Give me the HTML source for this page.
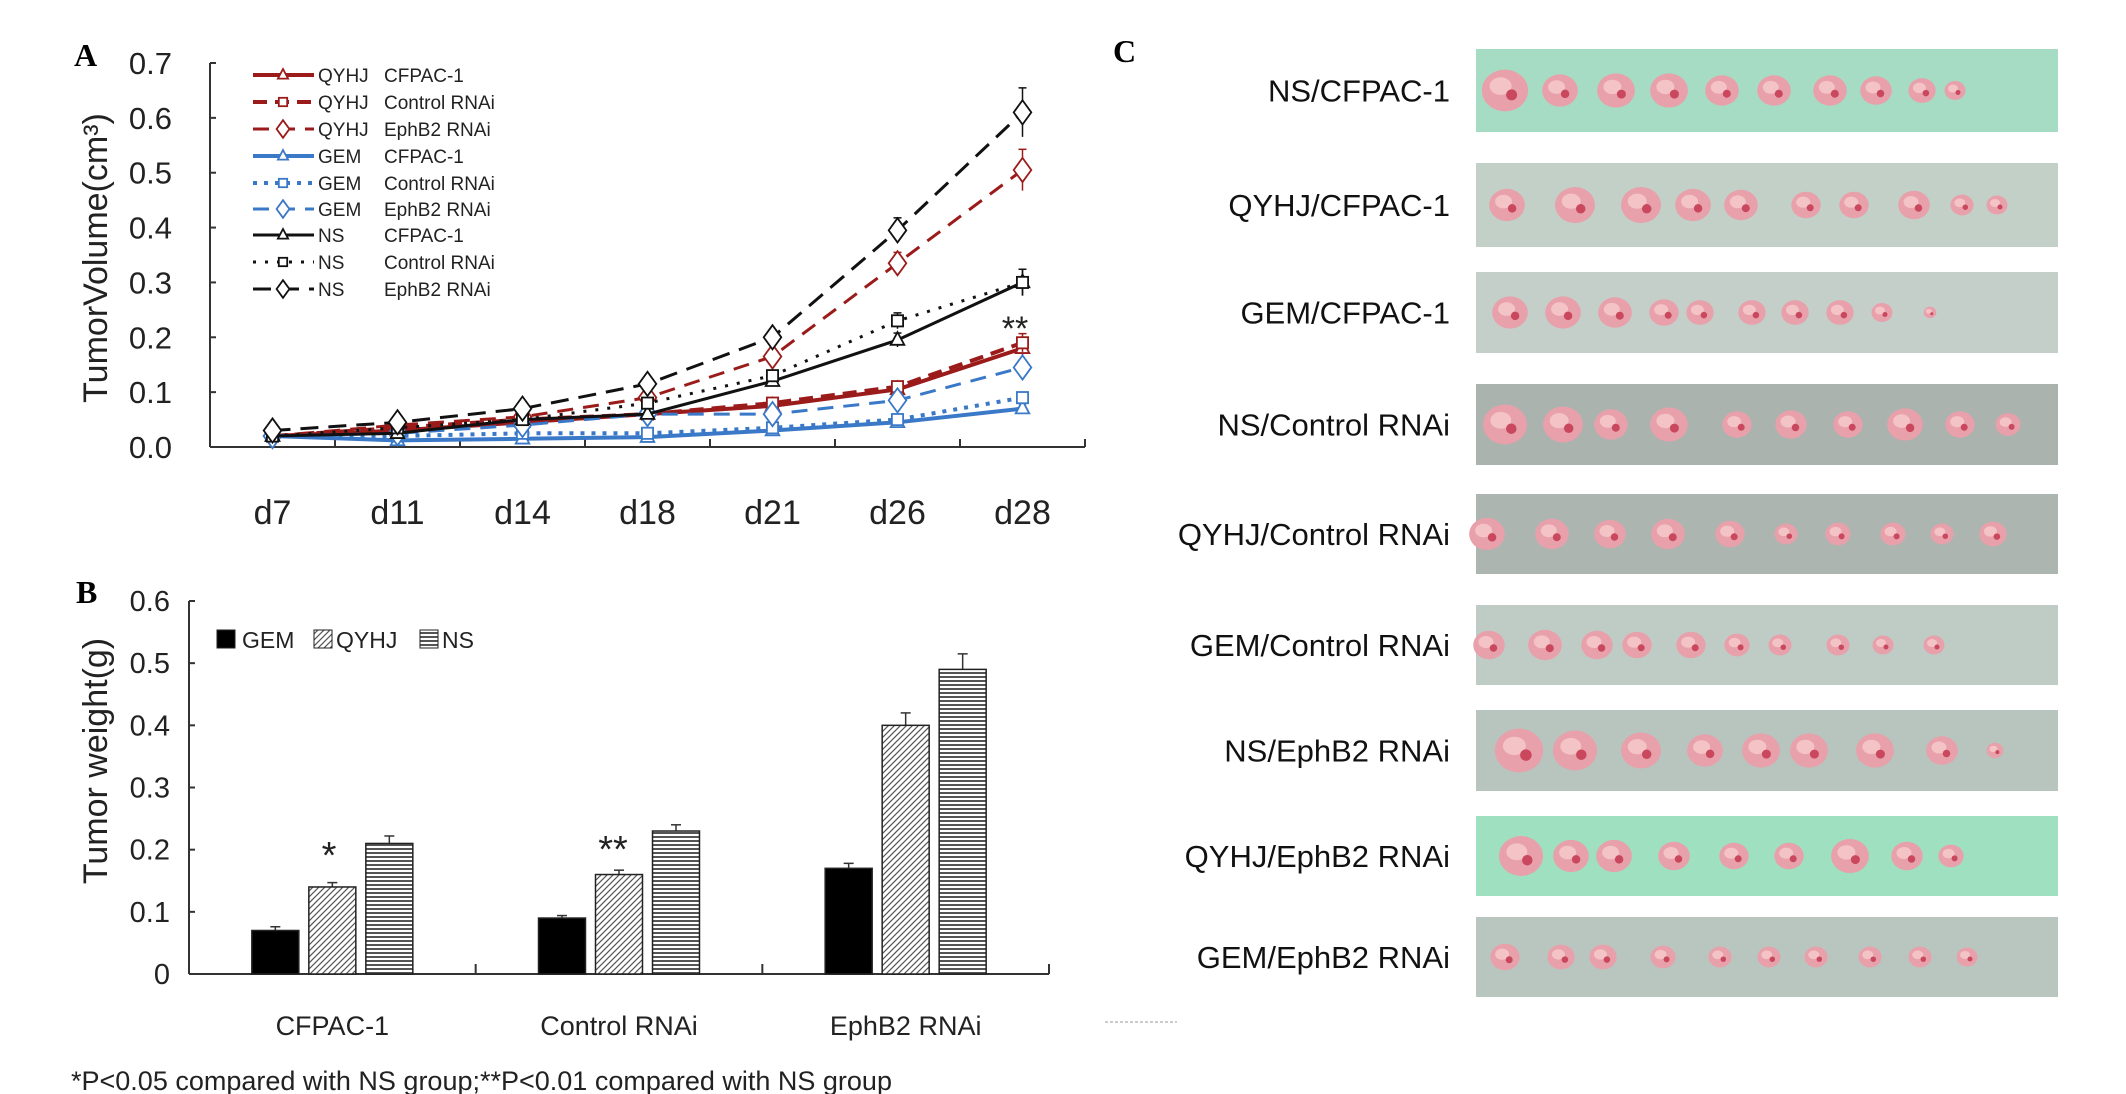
<!DOCTYPE html>
<html><head><meta charset="utf-8"><style>
html,body{margin:0;padding:0;background:#fff;}
svg{display:block;font-family:"Liberation Sans",sans-serif;}
</style></head><body>
<svg id="fig" width="2126" height="1094" viewBox="0 0 2126 1094" xmlns="http://www.w3.org/2000/svg">
<defs>
<pattern id="diag" patternUnits="userSpaceOnUse" width="6" height="6"><rect width="6" height="6" fill="#fff"/><path d="M-1,7 L7,-1 M-4,4 L4,-4 M2,10 L10,2" stroke="#555" stroke-width="1.2"/></pattern>
<pattern id="horiz" patternUnits="userSpaceOnUse" width="6" height="4"><rect width="6" height="4" fill="#fff"/><rect y="0" width="6" height="2" fill="#555"/></pattern>
</defs>
<g id="panelA"></g>
<g id="panelB"></g>
<g id="panelC"></g>
</svg>
<script>
// ---------- Panel A data ----------
const daysA = ["d7","d11","d14","d18","d21","d26","d28"];
const yTicksA = ["0.0","0.1","0.2","0.3","0.4","0.5","0.6","0.7"];
const seriesNamesA = ["QYHJ CFPAC-1","QYHJ Control RNAi","QYHJ EphB2 RNAi","GEM CFPAC-1","GEM Control RNAi","GEM EphB2 RNAi","NS CFPAC-1","NS Control RNAi","NS EphB2 RNAi"];
const qyhjCfpac = [0.02,0.03,0.045,0.06,0.075,0.105,0.18];
const qyhjCtrl  = [0.02,0.035,0.05,0.06,0.08,0.11,0.19];
const qyhjEph   = [0.02,0.04,0.055,0.09,0.165,0.335,0.505];
const gemCfpac  = [0.02,0.012,0.015,0.018,0.03,0.045,0.07];
const gemCtrl   = [0.02,0.02,0.025,0.025,0.035,0.05,0.09];
const gemEph    = [0.02,0.025,0.04,0.06,0.06,0.085,0.145];
const nsCfpac   = [0.02,0.025,0.05,0.06,0.12,0.195,0.3];
const nsCtrl    = [0.02,0.035,0.05,0.08,0.13,0.23,0.3];
const nsEph     = [0.03,0.045,0.07,0.115,0.2,0.395,0.61];
const errA      = [0.003,0.004,0.005,0.006,0.01,0.015,0.02];

// ---------- Panel B data ----------
const groupsB = ["CFPAC-1","Control RNAi","EphB2 RNAi"];
const yTicksB = ["0","0.1","0.2","0.3","0.4","0.5","0.6"];
const gemB  = [0.07,0.09,0.17];
const qyhjB = [0.14,0.16,0.40];
const nsB   = [0.21,0.23,0.49];
const gemErrB  = [0.006,0.004,0.008];
const qyhjErrB = [0.007,0.007,0.02];
const nsErrB   = [0.012,0.01,0.025];

const NS="http://www.w3.org/2000/svg";
function el(parent,tag,attrs,text){const e=document.createElementNS(NS,tag);for(const k in attrs)e.setAttribute(k,attrs[k]);if(text!==undefined)e.textContent=text;parent.appendChild(e);return e;}

// ===== Panel A =====
const A=document.getElementById('panelA');
const aL=210,aR=1085,aT=63,aB=447;
const ax=i=>aL+(aR-aL)/daysA.length*(i+0.5);
const ay=v=>aB-(aB-aT)*v/0.7;
let t=el(A,'text',{x:74,y:66,'font-family':'Liberation Serif, serif','font-weight':'bold','font-size':32},'A');


el(A,'line',{x1:aL,y1:aT,x2:aL,y2:aB,stroke:'#333','stroke-width':2});
el(A,'line',{x1:aL,y1:aB,x2:aR,y2:aB,stroke:'#333','stroke-width':2});
yTicksA.forEach((lab,i)=>{const y=ay(i*0.1);
 el(A,'line',{x1:aL,y1:y,x2:aL+6,y2:y,stroke:'#333','stroke-width':2});
 const tt=el(A,'text',{x:172,y:y+11,'text-anchor':'end','font-size':31,fill:'#222'},lab);
 
 
});
for(let i=0;i<=daysA.length;i++){const x=aL+(aR-aL)/daysA.length*i;el(A,'line',{x1:x,y1:aB,x2:x,y2:aB-8,stroke:'#333','stroke-width':2});}
daysA.forEach((d,i)=>{const tt=el(A,'text',{x:ax(i),y:524,'text-anchor':'middle','font-size':34,fill:'#222'},d);
 
 });
t=el(A,'text',{transform:'translate(107,258) rotate(-90)','text-anchor':'middle','font-size':34,fill:'#222'},'TumorVolume(cm³)');



const RED='#9b1b1b',BLUE='#3a78c8',BLK='#111';
const styles=[
 {d:qyhjCfpac,c:RED,dash:'',m:'tri',w:4},
 {d:qyhjCtrl,c:RED,dash:'14,8',m:'sq',w:4},
 {d:qyhjEph,c:RED,dash:'16,10',m:'dia',w:3},
 {d:gemCfpac,c:BLUE,dash:'',m:'tri',w:4},
 {d:gemCtrl,c:BLUE,dash:'4,7',m:'sq',w:4},
 {d:gemEph,c:BLUE,dash:'16,10',m:'dia',w:3},
 {d:nsCfpac,c:BLK,dash:'',m:'tri',w:3},
 {d:nsCtrl,c:BLK,dash:'3,9',m:'sq',w:3},
 {d:nsEph,c:BLK,dash:'18,10',m:'dia',w:3}];
function marker(g,type,x,y,c,s){
 if(type==='tri')return el(g,'path',{d:`M${x},${y-s} L${x+s*0.85},${y+s*0.6} L${x-s*0.85},${y+s*0.6} Z`,fill:'#fff',stroke:c,'stroke-width':1.8});
 if(type==='sq')return el(g,'rect',{x:x-s*0.7,y:y-s*0.7,width:s*1.4,height:s*1.4,fill:'#fff',stroke:c,'stroke-width':1.8});
 return el(g,'path',{d:`M${x},${y-s*1.1} L${x+s*0.8},${y} L${x},${y+s*1.1} L${x-s*0.8},${y} Z`,fill:'#fff',stroke:c,'stroke-width':1.8});
}
styles.forEach((s,k)=>{
 const g=el(A,'g',{});
 
 
 const pts=s.d.map((v,i)=>ax(i)+','+ay(v)).join(' ');
 el(g,'polyline',{points:pts,fill:'none',stroke:s.c,'stroke-width':s.w,'stroke-dasharray':s.dash});
 s.d.forEach((v,i)=>{
  const e=errA[i]*(v/0.3+0.2);
  el(g,'line',{x1:ax(i),y1:ay(v+e),x2:ax(i),y2:ay(v-e),stroke:s.c,'stroke-width':1.5});
  el(g,'line',{x1:ax(i)-4,y1:ay(v+e),x2:ax(i)+4,y2:ay(v+e),stroke:s.c,'stroke-width':1.5});
  const mk=marker(g,s.m,ax(i),ay(v),s.c,s.m==='dia'?11:8);
  
  
 });
});
t=el(A,'text',{x:1015,y:340,'text-anchor':'middle','font-size':34,fill:'#222'},'**');


// legend
const legY=[75,102,129,156,183,209,235,262,289];
const legA=['QYHJ','QYHJ','QYHJ','GEM','GEM','GEM','NS','NS','NS'];
const legB=['CFPAC-1','Control RNAi','EphB2 RNAi','CFPAC-1','Control RNAi','EphB2 RNAi','CFPAC-1','Control  RNAi','EphB2 RNAi'];
styles.forEach((s,k)=>{
 const g=el(A,'g',{});
 
 
 const y=legY[k];
 el(g,'line',{x1:253,y1:y,x2:314,y2:y,stroke:s.c,'stroke-width':s.w,'stroke-dasharray':s.dash});
 marker(g,s.m,283,y,s.c,s.m==='dia'?8:6);
 el(g,'text',{x:318,y:y+7,'font-size':19,fill:'#222'},legA[k]);
 el(g,'text',{x:384,y:y+7,'font-size':19,fill:'#222'},legB[k]);
});

// ===== Panel B =====
const B=document.getElementById('panelB');
const bL=189,bR=1049,bT=601,bB=974;
const by=v=>bB-(bB-bT)*v/0.6;
const gw=(bR-bL)/groupsB.length;
t=el(B,'text',{x:76,y:603,'font-family':'Liberation Serif, serif','font-weight':'bold','font-size':32},'B');


el(B,'line',{x1:bL,y1:bT,x2:bL,y2:bB,stroke:'#333','stroke-width':2});
el(B,'line',{x1:bL,y1:bB,x2:bR,y2:bB,stroke:'#333','stroke-width':2});
yTicksB.forEach((lab,i)=>{const y=by(i*0.1);
 el(B,'line',{x1:bL,y1:y,x2:bL+6,y2:y,stroke:'#333','stroke-width':2});
 const tt=el(B,'text',{x:170,y:y+10,'text-anchor':'end','font-size':29,fill:'#222'},lab);
 
 });
for(let i=1;i<=groupsB.length;i++){const x=bL+gw*i;el(B,'line',{x1:x,y1:bB,x2:x,y2:bB-10,stroke:'#333','stroke-width':2});}
t=el(B,'text',{transform:'translate(107,761) rotate(-90)','text-anchor':'middle','font-size':34,fill:'#222'},'Tumor weight(g)');


const bw=47,bgap=10;
const seriesB=[{d:gemB,e:gemErrB,f:'#000',n:'gem'},{d:qyhjB,e:qyhjErrB,f:'url(#diag)',n:'qyhj'},{d:nsB,e:nsErrB,f:'url(#horiz)',n:'ns'}];
groupsB.forEach((gname,gi)=>{
 const cx=bL+gw*(gi+0.5);
 seriesB.forEach((s,si)=>{
  const x=cx+(si-1)*(bw+bgap)-bw/2, v=s.d[gi];
  el(B,'line',{x1:x+bw/2,y1:by(v),x2:x+bw/2,y2:by(v+s.e[gi]),stroke:'#333','stroke-width':1.5});
  el(B,'line',{x1:x+bw/2-5,y1:by(v+s.e[gi]),x2:x+bw/2+5,y2:by(v+s.e[gi]),stroke:'#333','stroke-width':1.5});
  const r=el(B,'rect',{x:x,y:by(v),width:bw,height:bB-by(v),fill:s.f,stroke:'#222','stroke-width':1.5});
  
  
 });
 const tt=el(B,'text',{x:cx,y:1035,'text-anchor':'middle','font-size':27,fill:'#222'},gname);
 
 
});
t=el(B,'text',{x:329,y:868,'text-anchor':'middle','font-size':38,fill:'#222'},'*');


t=el(B,'text',{x:613,y:862,'text-anchor':'middle','font-size':38,fill:'#222'},'**');


[['#000','GEM',217,242],['url(#diag)','QYHJ',314,336],['url(#horiz)','NS',420,442]].forEach(l=>{
 const g=el(B,'g',{});
 
 
 el(g,'rect',{x:l[2],y:630,width:18,height:18,fill:l[0],stroke:'#222','stroke-width':1});
 el(g,'text',{x:l[3],y:648,'font-size':23,fill:'#222'},l[1]);
});
t=el(B,'text',{x:71,y:1090,'font-size':27,fill:'#222'},'*P<0.05 compared with NS group;**P<0.01 compared with NS group');


el(B,'line',{x1:1105,y1:1022,x2:1177,y2:1022,stroke:'#bbb','stroke-width':1.5,'stroke-dasharray':'3,2'});

// ===== Panel C =====
const C=document.getElementById('panelC');
t=el(C,'text',{x:1113,y:62,'font-family':'Liberation Serif, serif','font-weight':'bold','font-size':32},'C');


const rowLabels=["NS/CFPAC-1","QYHJ/CFPAC-1","GEM/CFPAC-1","NS/Control RNAi","QYHJ/Control RNAi","GEM/Control RNAi","NS/EphB2 RNAi","QYHJ/EphB2 RNAi","GEM/EphB2 RNAi"];
const rowTop=[49,163,272,384,494,605,710,816,917];
const rowH=[83,84,81,81,80,80,81,80,80];
const rowBg=['#a6dcc4','#c2d0c8','#c4cfca','#aab3ae','#adb5b1','#bfccc5','#b8c4be','#9ee0c0','#b9c6c0'];
const tumorX=[[1505,1560,1616,1669,1722,1774,1830,1876,1922,1955],[1507,1575,1641,1693,1741,1806,1854,1914,1962,1997],[1510,1563,1615,1664,1700,1752,1795,1840,1882,1930],[1505,1563,1611,1669,1737,1791,1848,1905,1960,2008],[1487,1552,1610,1668,1730,1786,1838,1893,1942,1993],[1489,1545,1597,1637,1691,1737,1780,1838,1883,1934],[1519,1575,1641,1705,1761,1809,1875,1942,1995],[1521,1571,1614,1674,1734,1789,1850,1907,1951],[1505,1561,1603,1663,1720,1769,1816,1870,1920,1967]];
const tumorR=[[22,17,18,18,16,16,16,15,13,10],[17,19,19,17,16,14,14,15,11,10],[17,17,16,14,13,13,13,13,10,6],[21,19,16,18,14,15,14,17,14,12],[17,16,15,16,14,11,12,12,11,13],[15,16,15,14,14,12,11,11,10,10],[23,21,19,17,18,18,18,15,8],[21,17,17,15,14,14,18,15,12],[14,13,13,12,11,11,11,11,11,10]];
rowLabels.forEach((lab,i)=>{
 const g=el(C,'g',{});
 
 
 el(g,'text',{x:1450,y:rowTop[i]+rowH[i]/2+11,'text-anchor':'end','font-size':31,fill:'#111'},lab);
 el(g,'rect',{x:1476,y:rowTop[i],width:582,height:rowH[i],fill:rowBg[i]});
 const cy=rowTop[i]+rowH[i]/2;
 tumorX[i].forEach((x,j)=>{const r=tumorR[i][j];
  el(g,'ellipse',{cx:x,cy:cy,rx:r*1.05,ry:r*0.95,fill:'#e8a0ab'});
  el(g,'ellipse',{cx:x-r*0.2,cy:cy-r*0.2,rx:r*0.5,ry:r*0.4,fill:'#f3c3c6'});
  el(g,'circle',{cx:x+r*0.3,cy:cy+r*0.2,r:r*0.25,fill:'#c9485e'});
 });
});
</script>
</body></html>
